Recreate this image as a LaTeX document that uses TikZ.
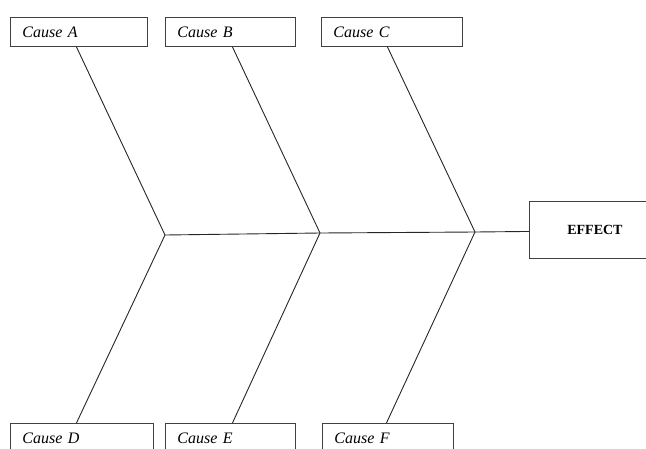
\documentclass[tikz,border=0pt]{standalone}
\usepackage{fontspec}
\setmainfont{Liberation Serif}
\begin{document}
\begin{tikzpicture}[x=1pt,y=-1pt,
  causebox/.style={draw=black!75,line width=0.9pt,anchor=north west,minimum height=29pt,
    inner xsep=12pt,inner ysep=0pt,align=left,font=\fontsize{16}{18}\selectfont\itshape},
  effbox/.style={draw=black!75,line width=0.9pt,anchor=north west,minimum height=57pt,
    minimum width=131pt,inner sep=0pt,font=\fontsize{14}{16}\selectfont\bfseries},
  bone/.style={draw=black!85,line width=0.9pt}]
\useasboundingbox (0,0) rectangle (646,448);
\clip (0,0) rectangle (646,448);
% cause boxes
\node[causebox,text width=113pt] (A) at (10,17) {Cause A};
\node[causebox,text width=106pt] (B) at (165,17) {Cause B};
\node[causebox,text width=117pt] (C) at (321,17) {Cause C};
\node[causebox,text width=119pt] (D) at (10,423) {Cause D};
\node[causebox,text width=106pt] (E) at (165,423) {Cause E};
\node[causebox,text width=107pt] (F) at (322,423) {Cause F};
% effect box
\node[effbox] (EF) at (529,201) {EFFECT};
% junctions
\coordinate (J1) at (165,235);
\coordinate (J2) at (320,233);
\coordinate (J3) at (475,232);
% spine
\draw[bone] (J1) -- (J2) -- (J3) -- ([yshift=-1.5pt]EF.west);
% bones
\draw[bone] ([xshift=-2.5pt]A.south) -- (J1);
\draw[bone] ([xshift=2pt]B.south) -- (J2);
\draw[bone] ([xshift=-4.5pt]C.south) -- (J3);
\draw[bone] ([xshift=-5.5pt]D.north) -- (J1);
\draw[bone] ([xshift=2pt]E.north) -- (J2);
\draw[bone] ([xshift=-1.5pt]F.north) -- (J3);
\end{tikzpicture}
\end{document}
